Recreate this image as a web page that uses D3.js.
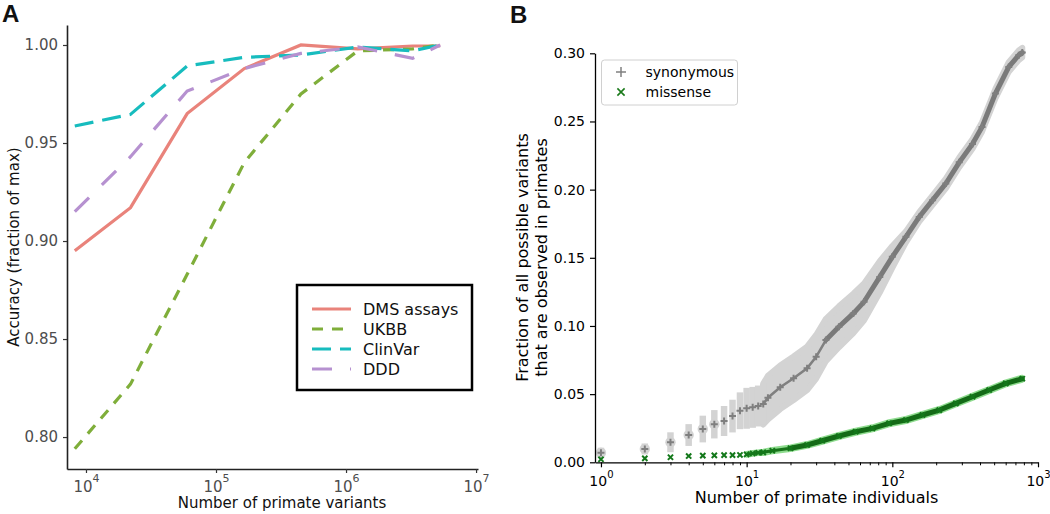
<!DOCTYPE html>
<html><head><meta charset="utf-8">
<script src="https://cdn.jsdelivr.net/npm/d3@7"></script>
<style>
body{margin:0;background:#fff}
svg{display:block;font-family:"DejaVu Sans",Verdana,sans-serif}
</style>
</head><body>
<svg id="chart" width="1050" height="514"></svg>
<script>
// ---------------- Panel A data ----------------
const aVariants = [8200, 22000, 60000, 165000, 450000, 1230000, 3250000, 5300000];
const dmsAcc     = [0.895, 0.917, 0.965, 0.988, 1.000, 0.998, 0.9995, 0.9995];
const ukbbAcc    = [0.794, 0.827, 0.883, 0.940, 0.975, 0.997, 0.998, 1.000];
const clinvarAcc = [0.9587, 0.9646, 0.9893, 0.9937, 0.9949, 0.999, 0.997, 1.000];
const dddAcc     = [0.915, 0.943, 0.9765, 0.988, 0.9957, 0.999, 0.9932, 1.000];
const aSeriesNames = ["DMS assays", "UKBB", "ClinVar", "DDD"];
const aYTicks = [0.80, 0.85, 0.90, 0.95, 1.00];
const aXTicks = [1e4, 1e5, 1e6, 1e7];

// ---------------- Panel B data ----------------
const synN    = [1,2,3,4,5,6,7,8,9,10,11,12,13,14,17,21,26,30,35,43,54,64,82,100,124,153,189,233,288,355,413,510,630,738,780];
const synFrac = [.0070,.0098,.0147,.0200,.0244,.0279,.0303,.0339,.0378,.0396,.0403,.0413,.0427,.0474,.0550,.0616,.0689,.0774,.0897,.0994,.1092,.1177,.1360,.1507,.1654,.1800,.1923,.2045,.2200,.2335,.2460,.2705,.2900,.2986,.3005];
const synErr  = [.0037,.0040,.0073,.0080,.0098,.0104,.0110,.0120,.0135,.0150,.0150,.0150,.0150,.0160,.0160,.0160,.0160,.0160,.0155,.0150,.0145,.0135,.0115,.0080,.0040,.0035,.0035,.0035,.0035,.0035,.0035,.0035,.0035,.0035,.0035];
const misN    = [1,2,3,4,5,6,7,8,9,10,11,12,13,15,20,26,33,43,56,73,95,124,161,210,273,355,462,601,780];
const misFrac = [.0022,.0029,.0037,.0046,.0049,.0051,.0053,.0053,.0054,.0058,.0065,.0070,.0073,.0085,.0103,.0127,.0158,.0193,.0224,.0249,.0286,.0310,.0347,.0383,.0432,.0481,.0530,.0579,.0613];
const misErr  = [.0008,.0008,.0008,.0008,.0008,.0008,.0008,.0008,.0008,.0010,.0010,.0010,.0012,.0012,.0013,.0014,.0015,.0015,.0015,.0015,.0015,.0015,.0015,.0015,.0015,.0015,.0015,.0015,.0015];
const bSeriesNames = ["synonymous", "missense"];
const bYTicks = [0.00, 0.05, 0.10, 0.15, 0.20, 0.25, 0.30];
const bXTicks = [1, 10, 100, 1000];

const svg = d3.select("#chart");

// ================= PANEL A =================
const xA = d3.scaleLog().domain([7145, 1.035e7]).range([67, 478]);
const yA = d3.scaleLinear().domain([0.7837, 1.0102]).range([469, 25]);

const aStyles = [
  {color: "#e9837b", dash: null},
  {color: "#7fae3a", dash: "11,9"},
  {color: "#17bcbe", dash: "19,9"},
  {color: "#b691d0", dash: "20,18"}
];
const aData = [dmsAcc, ukbbAcc, clinvarAcc, dddAcc];

const gA = svg.append("g");
const yAxA = gA.append("g").attr("transform", "translate(67,0)")
  .call(d3.axisLeft(yA).tickValues(aYTicks).tickFormat(d3.format(".2f")).tickSize(4).tickSizeOuter(0).tickPadding(5));
yAxA.select(".domain").attr("stroke", "#222").attr("stroke-width", 1.6);
yAxA.selectAll(".tick line").attr("stroke", "#333").attr("stroke-width", 1.2);
yAxA.selectAll(".tick text").attr("font-size", 15).attr("fill", "#4d4d4d").attr("font-family", "DejaVu Sans");

const xAxA = gA.append("g").attr("transform", "translate(0,469)")
  .call(d3.axisBottom(xA).tickValues(aXTicks).tickFormat(() => "").tickSize(4).tickSizeOuter(0).tickPadding(8));
xAxA.select(".domain").attr("stroke", "#222").attr("stroke-width", 1.6);
xAxA.selectAll(".tick line").attr("stroke", "#333").attr("stroke-width", 1.2);
xAxA.selectAll(".tick text").attr("font-size", 15).attr("fill", "#4d4d4d").attr("font-family", "DejaVu Sans")
  .each(function(d) {
    const t = d3.select(this);
    t.append("tspan").text("10");
    t.append("tspan").attr("dy", "-0.85em").attr("font-size", "11px").text(Math.round(Math.log10(d)));
  });

const lineA = d3.line().x((d, i) => xA(aVariants[i])).y(d => yA(d));
aData.forEach((arr, k) => {
  gA.append("path").datum(arr)
    .attr("d", lineA)
    .attr("fill", "none")
    .attr("stroke", aStyles[k].color)
    .attr("stroke-width", 3.2)
    .attr("stroke-dasharray", aStyles[k].dash);
});

// legend A
const legA = gA.append("g");
legA.append("rect").attr("x", 297).attr("y", 285).attr("width", 175).attr("height", 105)
  .attr("fill", "#fff").attr("stroke", "#000").attr("stroke-width", 2.5);
aSeriesNames.forEach((name, k) => {
  const cy = 309 + k * 20;
  legA.append("line").attr("x1", 312).attr("x2", 351).attr("y1", cy).attr("y2", cy)
    .attr("stroke", aStyles[k].color).attr("stroke-width", 3.2)
    .attr("stroke-dasharray", aStyles[k].dash);
  legA.append("text").attr("x", 363).attr("y", cy).attr("dy", "0.35em")
    .attr("font-size", 16).attr("fill", "#111").text(name);
});

gA.append("text").attr("transform", "translate(19,247) rotate(-90)")
  .attr("text-anchor", "middle").attr("font-size", 15).attr("fill", "#111")
  .text("Accuracy (fraction of max)");
gA.append("text").attr("x", 282).attr("y", 508)
  .attr("text-anchor", "middle").attr("font-size", 15).attr("fill", "#111")
  .text("Number of primate variants");
gA.append("text").attr("x", 2).attr("y", 22)
  .attr("font-family", "'Liberation Sans Narrow','Arial Narrow','Liberation Sans',sans-serif")
  .attr("font-weight", "bold").attr("font-size", 24).attr("fill", "#111").text("A");

// ================= PANEL B =================
const xB = d3.scaleLog().domain([0.91, 1000]).range([595, 1038]);
const yB = d3.scaleLinear().domain([0, 0.30]).range([462.3, 53.3]);
const gB = svg.append("g");

const synPts = synN.map((n, i) => ({n, v: synFrac[i], e: synErr[i]}));
const misPts = misN.map((n, i) => ({n, v: misFrac[i], e: misErr[i]}));

const areaB = d3.area().x(d => xB(d.n)).y0(d => yB(d.v - d.e)).y1(d => yB(d.v + d.e));
const lineB = d3.line().x(d => xB(d.n)).y(d => yB(d.v));

// synonymous error band / bars
const synDense = synPts.filter(d => d.n >= 13);
gB.append("path").datum(synDense).attr("d", areaB)
  .attr("fill", "#d3d3d3").attr("stroke", "#d3d3d3").attr("stroke-width", 6).attr("stroke-linejoin", "round");
const synSparse = synPts.filter(d => d.n <= 13);
gB.selectAll(".synbar").data(synSparse).enter().append("line")
  .attr("x1", d => xB(d.n)).attr("x2", d => xB(d.n))
  .attr("y1", d => yB(d.v - d.e)).attr("y2", d => yB(d.v + d.e))
  .attr("stroke", "#d3d3d3").attr("stroke-width", 6.5);
gB.selectAll(".synhalo").data(synSparse.filter(d => d.n <= 6)).enter().append("circle")
  .attr("cx", d => xB(d.n)).attr("cy", d => yB(d.v)).attr("r", 5.2).attr("fill", "#d3d3d3");

// missense error band
const misDense = misPts.filter(d => d.n >= 10);
gB.append("path").datum(misDense).attr("d", areaB)
  .attr("fill", "#8fdc8f").attr("stroke", "#8fdc8f").attr("stroke-width", 4).attr("stroke-linejoin", "round");

// dense marker trails
gB.append("path").datum(synPts.filter(d => d.n >= 13 && d.n <= 43)).attr("d", lineB)
  .attr("fill", "none").attr("stroke", "#808080").attr("stroke-width", 2.5);
gB.append("path").datum(synPts.filter(d => d.n >= 35)).attr("d", lineB)
  .attr("fill", "none").attr("stroke", "#7a7a7a").attr("stroke-width", 5).attr("stroke-linecap", "round");
gB.append("path").datum(misPts.filter(d => d.n >= 10 && d.n <= 26)).attr("d", lineB)
  .attr("fill", "none").attr("stroke", "#17741a").attr("stroke-width", 3);
gB.append("path").datum(misPts.filter(d => d.n >= 20)).attr("d", lineB)
  .attr("fill", "none").attr("stroke", "#146b17").attr("stroke-width", 5).attr("stroke-linecap", "round");

// markers
const plusPath = "M-3.5,0H3.5M0,-3.5V3.5";
const xPath = "M-2.6,-2.6L2.6,2.6M-2.6,2.6L2.6,-2.6";
gB.selectAll(".synm").data(synPts).enter().append("path")
  .attr("transform", d => `translate(${xB(d.n)},${yB(d.v)})`)
  .attr("d", plusPath).attr("stroke", "#7f7f7f").attr("stroke-width", 2).attr("fill", "none");
gB.selectAll(".mism").data(misPts).enter().append("path")
  .attr("transform", d => `translate(${xB(d.n)},${yB(d.v)})`)
  .attr("d", xPath).attr("stroke", "#13781a").attr("stroke-width", 2).attr("fill", "none");

// axes B
const yAxB = gB.append("g").attr("transform", "translate(595,0)")
  .call(d3.axisLeft(yB).tickValues(bYTicks).tickFormat(d3.format(".2f")).tickSize(5).tickSizeOuter(0).tickPadding(5));
yAxB.select(".domain").attr("stroke", "#000").attr("stroke-width", 1.3);
yAxB.selectAll(".tick line").attr("stroke", "#000").attr("stroke-width", 1.2);
yAxB.selectAll(".tick text").attr("font-size", 14).attr("fill", "#000").attr("font-family", "DejaVu Sans");

const minorTicks = [];
[1, 10, 100].forEach(dec => { for (let m = 2; m <= 9; m++) minorTicks.push(dec * m); });
const xAxBminor = gB.append("g").attr("transform", "translate(0,462.3)")
  .call(d3.axisBottom(xB).tickValues(minorTicks).tickFormat(() => "").tickSize(3).tickSizeOuter(0));
xAxBminor.select(".domain").remove();
xAxBminor.selectAll(".tick line").attr("stroke", "#000").attr("stroke-width", 1);
const xAxB = gB.append("g").attr("transform", "translate(0,462.3)")
  .call(d3.axisBottom(xB).tickValues(bXTicks).tickFormat(() => "").tickSize(5).tickSizeOuter(0).tickPadding(9));
xAxB.select(".domain").attr("stroke", "#000").attr("stroke-width", 1.3);
xAxB.selectAll(".tick line").attr("stroke", "#000").attr("stroke-width", 1.2);
xAxB.selectAll(".tick text").attr("font-size", 14).attr("fill", "#000").attr("font-family", "DejaVu Sans")
  .each(function(d) {
    const t = d3.select(this);
    t.append("tspan").text("10");
    t.append("tspan").attr("dy", "-0.8em").attr("font-size", "10px").text(Math.round(Math.log10(d)));
  });

// legend B
const legB = gB.append("g");
legB.append("rect").attr("x", 601.5).attr("y", 60).attr("width", 136).attr("height", 45).attr("rx", 3)
  .attr("fill", "#fff").attr("fill-opacity", 0.85).attr("stroke", "#d0d0d0").attr("stroke-width", 1);
legB.append("path").attr("transform", "translate(621,72)").attr("d", "M-5,0H5M0,-5V5")
  .attr("stroke", "#808080").attr("stroke-width", 1.5);
legB.append("path").attr("transform", "translate(621,92)").attr("d", "M-3.6,-3.6L3.6,3.6M-3.6,3.6L3.6,-3.6")
  .attr("stroke", "#1a7a1a").attr("stroke-width", 1.6);
bSeriesNames.forEach((name, k) => {
  legB.append("text").attr("x", 645.5).attr("y", 72 + k * 20).attr("dy", "0.35em")
    .attr("font-size", 14).attr("fill", "#000").text(name);
});

gB.append("text").attr("transform", "translate(528,257.5) rotate(-90)")
  .attr("text-anchor", "middle").attr("font-size", 16).attr("fill", "#000")
  .text("Fraction of all possible variants");
gB.append("text").attr("transform", "translate(547,257.5) rotate(-90)")
  .attr("text-anchor", "middle").attr("font-size", 16).attr("fill", "#000")
  .text("that are observed in primates");
gB.append("text").attr("x", 816.5).attr("y", 503)
  .attr("text-anchor", "middle").attr("font-size", 16).attr("fill", "#000")
  .text("Number of primate individuals");
gB.append("text").attr("x", 510).attr("y", 23)
  .attr("font-family", "'Liberation Sans Narrow','Arial Narrow','Liberation Sans',sans-serif")
  .attr("font-weight", "bold").attr("font-size", 24).attr("fill", "#111").text("B");
</script>
</body></html>
